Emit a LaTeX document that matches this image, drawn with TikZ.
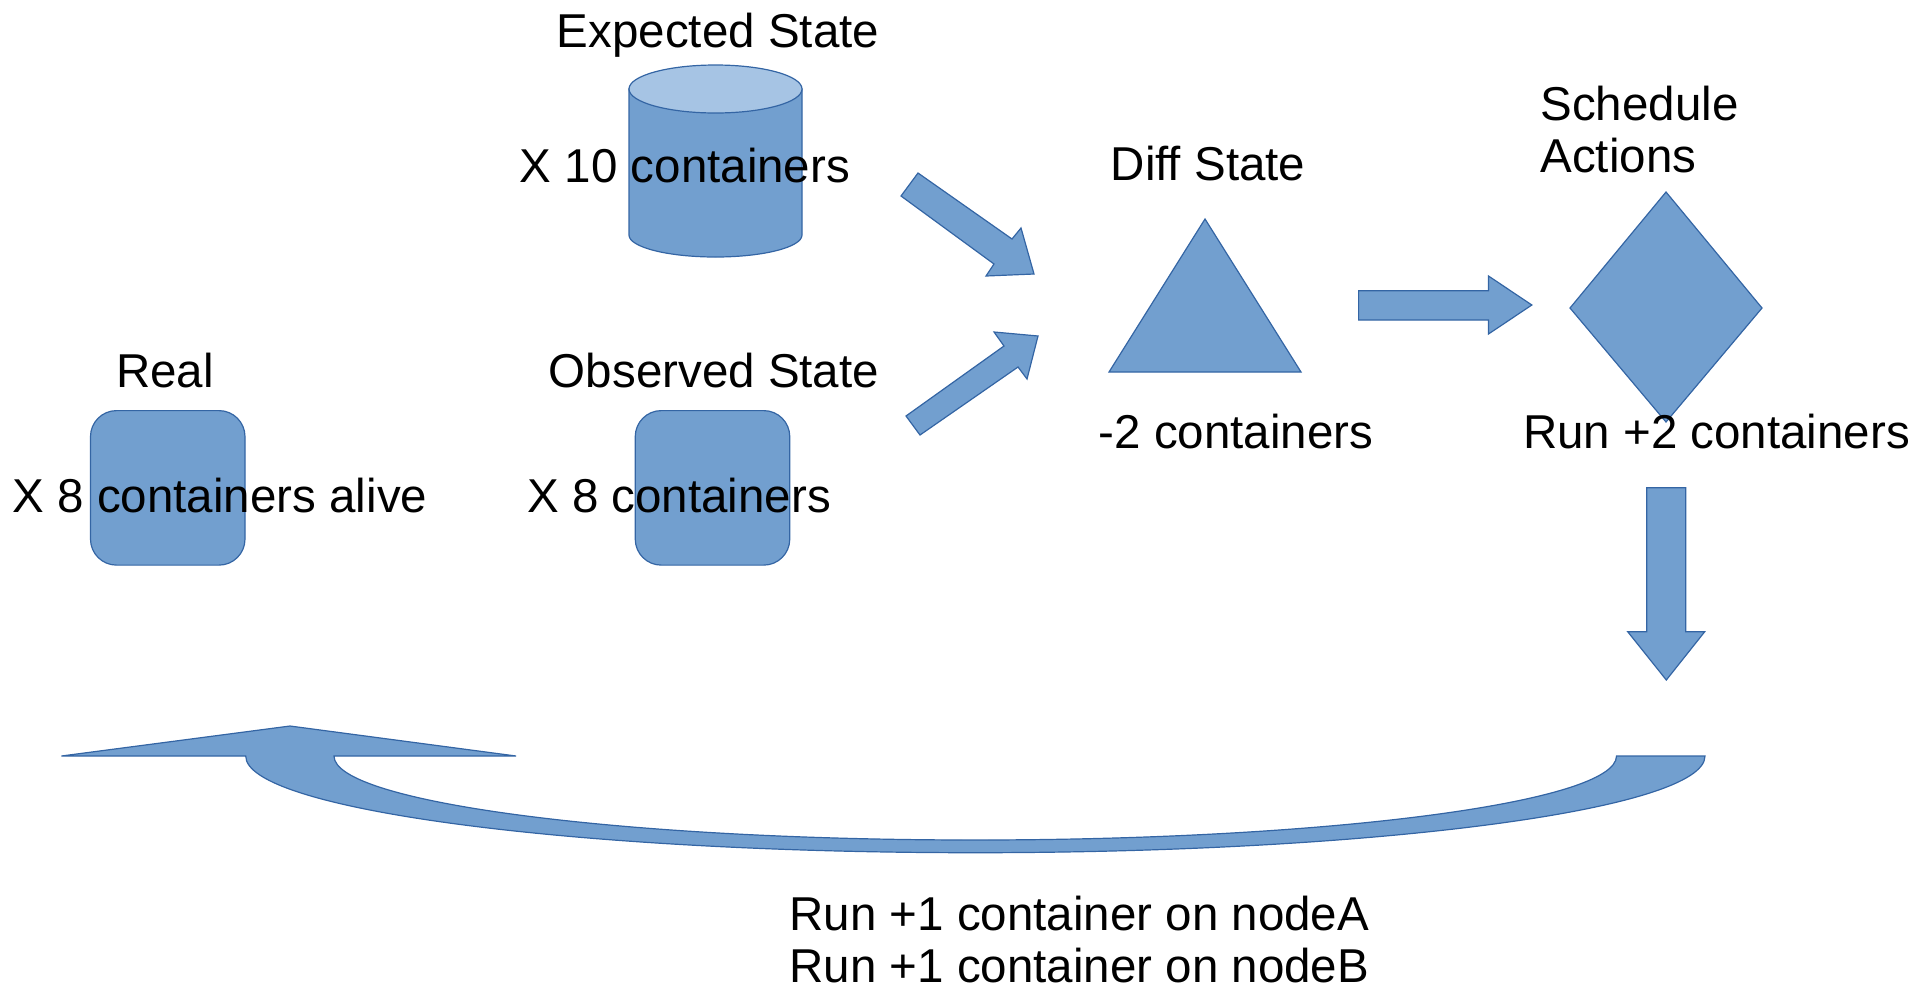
\documentclass[tikz,border=0pt]{standalone}
\usepackage{fontspec}
\setmainfont{Liberation Sans}
\definecolor{shapefill}{RGB}{114,159,207}
\definecolor{shapeline}{RGB}{52,101,164}
\definecolor{topfill}{RGB}{166,196,228}
\begin{document}
\begin{tikzpicture}[x=0.5pt,y=-0.5pt,
  blk/.style={fill=shapefill,draw=shapeline,line width=0.6pt,line join=miter},
  rbox/.style={blk,rounded corners=13pt,minimum width=77.25pt,minimum height=77.25pt,inner sep=0pt},
  lbl/.style={inner sep=0pt,font=\fontsize{23.75}{26}\selectfont,text=black}]
\useasboundingbox (0,0) rectangle (1926,986);

% Expected state cylinder
\draw[blk] (629,89) -- (629,235)
  .. controls (629,247.2) and (667.8,257) .. (715.5,257)
  .. controls (763.2,257) and (802,247.2) .. (802,235) -- (802,89) -- cycle;
\draw[blk,fill=topfill] (715.5,89) ellipse [x radius=86.5, y radius=24];
\coordinate (expected) at (715.5,161);

% Real / Observed boxes
\node[rbox] (real) at (167.75,487.85) {};
\node[rbox] (observed) at (712.5,487.85) {};

% arrows into diff
\draw[blk] (918,173) -- (1012,239) -- (1021,228) -- (1034,274) -- (986,276) -- (994,264) -- (901,196) -- cycle;
\draw[blk] (906,416) -- (1004,346) -- (994,332) -- (1038,336) -- (1027,379) -- (1018,367) -- (920,435) -- cycle;

% Diff triangle
\draw[blk] (1205,219) -- (1301,372) -- (1109,372) -- cycle;
\coordinate (diff) at (1205,320);

% right arrow
\draw[blk] (1358.6,290.7) -- (1488.5,290.7) -- (1488.5,276) -- (1531.8,305) -- (1488.5,334) -- (1488.5,320) -- (1358.6,320) -- cycle;

% Schedule diamond
\draw[blk] (1666,192) -- (1762,308) -- (1666,422) -- (1570,308) -- cycle;
\coordinate (schedule) at (1666,308);

% down arrow
\draw[blk] (1646.7,487.7) -- (1685.7,487.7) -- (1685.7,631.7) -- (1704.7,631.7) -- (1666.3,680) -- (1627.7,631.7) -- (1646.7,631.7) -- cycle;

% curved return arrow
\draw[blk] (61.4,756) -- (290,726) -- (516,756) -- (334,756)
  .. controls (334,802.4) and (621.1,840) .. (975.25,840)
  .. controls (1329.4,840) and (1616.5,802.4) .. (1616.5,756)
  -- (1705,756)
  .. controls (1705,809.4) and (1378.3,852.7) .. (975.35,852.7)
  .. controls (572.4,852.7) and (245.7,809.4) .. (245.7,756) -- cycle;

% texts
\node[lbl,anchor=base] (expT) at (718,47) {Expected State};
\node[lbl,anchor=base] (expC) at (685,182) {X 10 containers};
\node[lbl,anchor=base] (realT) at (165,387) {Real};
\node[lbl,anchor=base] (realC) at (220,512.7) {X 8 containers alive};
\node[lbl,anchor=base] (obsT) at (714,387) {Observed State};
\node[lbl,anchor=base] (obsC) at (679,512.7) {X 8 containers};
\node[lbl,anchor=base] (diffT) at (1208,180) {Diff State};
\node[lbl,anchor=base] (diffC) at (1236,448) {-2 containers};
\node[lbl,anchor=base west] (schedT1) at (1540,120) {Schedule};
\node[lbl,anchor=base west] (schedT2) at (1540,172) {Actions};
\node[lbl,anchor=base] (schedC) at (1716.5,448) {Run +2 containers};
\node[lbl,anchor=base west] (runA) at (789,930) {Run +1 container on nodeA};
\node[lbl,anchor=base west] (runB) at (789,982) {Run +1 container on nodeB};
\end{tikzpicture}
\end{document}
